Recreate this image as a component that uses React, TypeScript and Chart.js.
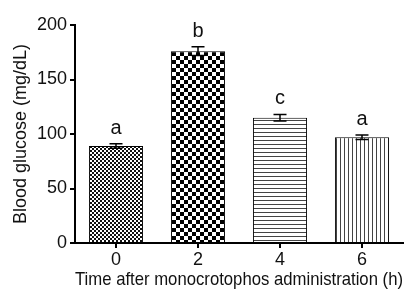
import React, { useEffect, useRef } from "react";
import { Chart, registerables } from "chart.js";

Chart.register(...registerables);

const categories = ["0", "2", "4", "6"];
const glucose = [89, 176, 115, 97];
const sem = [2, 4, 3, 2];
const letters = ["a", "b", "c", "a"];
const yTitle = "Blood glucose (mg/dL)";
const xTitle = "Time after monocrotophos administration (h)";

function makePattern(kind: string): CanvasPattern | string {
  const c = document.createElement("canvas");
  const ctx = c.getContext("2d")!;
  if (kind === "fine") {
    c.width = 4; c.height = 4;
    ctx.fillStyle = "#fff"; ctx.fillRect(0, 0, 4, 4);
    ctx.fillStyle = "#111";
    ctx.fillRect(0, 0, 2, 2); ctx.fillRect(2, 2, 2, 2);
  } else if (kind === "coarse") {
    c.width = 8; c.height = 8;
    ctx.fillStyle = "#fff"; ctx.fillRect(0, 0, 8, 8);
    ctx.fillStyle = "#000";
    ctx.fillRect(0, 0, 4, 4); ctx.fillRect(4, 4, 4, 4);
  } else if (kind === "hlines") {
    c.width = 4; c.height = 4;
    ctx.fillStyle = "#fff"; ctx.fillRect(0, 0, 4, 4);
    ctx.fillStyle = "#444"; ctx.fillRect(0, 0, 4, 1);
  } else {
    c.width = 4; c.height = 4;
    ctx.fillStyle = "#fff"; ctx.fillRect(0, 0, 4, 4);
    ctx.fillStyle = "#444"; ctx.fillRect(0, 0, 1, 4);
  }
  return ctx.createPattern(c, "repeat")!;
}

const errLetterPlugin = {
  id: "errLetter",
  afterDatasetsDraw(chart: any) {
    const ctx = chart.ctx;
    const meta = chart.getDatasetMeta(0);
    const y = chart.scales.y;
    ctx.save();
    meta.data.forEach((bar: any, i: number) => {
      const x = bar.x;
      const top = y.getPixelForValue(glucose[i] + sem[i]);
      const bot = y.getPixelForValue(glucose[i] - sem[i]);
      ctx.strokeStyle = "#000";
      ctx.lineWidth = 1.5;
      ctx.beginPath();
      ctx.moveTo(x, top); ctx.lineTo(x, bot);
      ctx.moveTo(x - 6.5, top); ctx.lineTo(x + 6.5, top);
      ctx.moveTo(x - 6.5, bot); ctx.lineTo(x + 6.5, bot);
      ctx.stroke();
      ctx.fillStyle = "#111";
      ctx.font = "20px 'Liberation Sans', Arial, sans-serif";
      ctx.textAlign = "center";
      ctx.textBaseline = "alphabetic";
      ctx.fillText(letters[i], x, top - 10);
    });
    ctx.restore();
  },
};

export default function App() {
  const ref = useRef<HTMLCanvasElement>(null);
  useEffect(() => {
    const patterns = [makePattern("fine"), makePattern("coarse"), makePattern("hlines"), makePattern("vlines")];
    const font = { family: "'Liberation Sans', Arial, sans-serif", size: 18 };
    const chart = new Chart(ref.current!, {
      type: "bar",
      data: {
        labels: categories,
        datasets: [
          {
            data: glucose,
            backgroundColor: patterns as any,
            borderColor: "#000",
            borderWidth: 1,
            borderSkipped: "bottom",
            barPercentage: 0.66,
            categoryPercentage: 1,
          },
        ],
      },
      options: {
        animation: false,
        responsive: false,
        maintainAspectRatio: false,
        layout: { padding: { top: 25, right: 12, left: 0, bottom: 0 } },
        plugins: { legend: { display: false }, tooltip: { enabled: false } },
        scales: {
          x: {
            offset: true,
            grid: { display: true, drawOnChartArea: false, drawTicks: true, tickLength: 5, color: "#000", lineWidth: 2, offset: false },
            border: { display: true, color: "#000", width: 2 },
            ticks: { color: "#111", font, padding: 1 },
            title: { display: true, text: xTitle, color: "#111", font: { ...font, size: 19 }, padding: { top: 0, bottom: 4 } },
            afterFit: (s: any) => { s.height = 52; },
          },
          y: {
            min: 0,
            max: 200,
            ticks: { stepSize: 50, color: "#111", font, padding: 3 },
            grid: { display: true, drawOnChartArea: false, drawTicks: true, tickLength: 5, color: "#000", lineWidth: 2 },
            border: { display: true, color: "#000", width: 2 },
            title: { display: true, text: yTitle, color: "#111", font, padding: { top: 10, bottom: 0 } },
            afterFit: (s: any) => { s.width = 75; },
          },
        },
      },
      plugins: [errLetterPlugin],
    });
    return () => chart.destroy();
  }, []);
  return (
    <div style={{ position: "absolute", left: 0, top: 0, width: 415, height: 295, background: "#fff" }}>
      <canvas ref={ref} width={415} height={295} style={{ width: 415, height: 295 }} />
    </div>
  );
}
